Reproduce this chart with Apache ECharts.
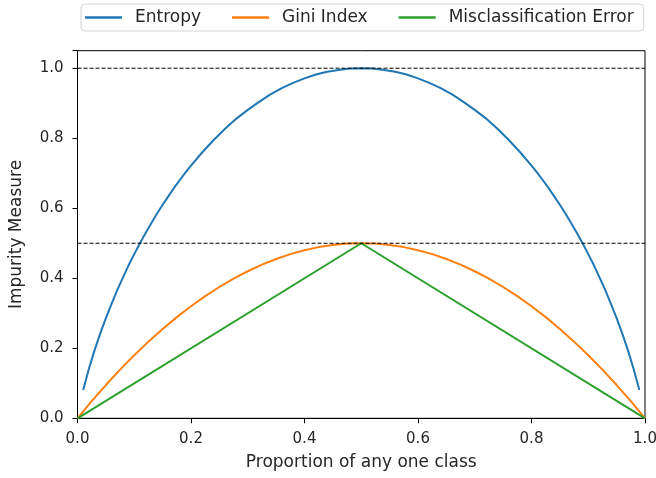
<!DOCTYPE html>
<html>
<head>
<meta charset="utf-8">
<script src="https://cdn.jsdelivr.net/npm/echarts@6/dist/echarts.min.js"></script>
<style>html,body{margin:0;padding:0;background:#fff}#c{width:656px;height:478px}</style>
</head>
<body>
<div id="c"></div>
<script>
// Values
const entropyX = [0.01,0.02,0.03,0.04,0.05,0.06,0.07,0.08,0.09,0.10,0.11,0.12,0.13,0.14,0.15,0.16,0.17,0.18,0.19,0.20,0.22,0.24,0.26,0.28,0.30,0.32,0.34,0.36,0.38,0.40,0.42,0.44,0.46,0.48,0.50,
                  0.52,0.54,0.56,0.58,0.60,0.62,0.64,0.66,0.68,0.70,0.72,0.74,0.76,0.78,0.80,0.81,0.82,0.83,0.84,0.85,0.86,0.87,0.88,0.89,0.90,0.91,0.92,0.93,0.94,0.95,0.96,0.97,0.98,0.99];
const entropyY = [0.081,0.141,0.194,0.242,0.286,0.327,0.366,0.402,0.437,0.469,0.500,0.529,0.557,0.584,0.610,0.634,0.658,0.680,0.702,0.722,0.760,0.795,0.827,0.856,0.881,0.904,0.925,0.943,0.958,0.971,0.982,0.990,0.995,0.999,1.000,
                  0.999,0.995,0.990,0.982,0.971,0.958,0.943,0.925,0.904,0.881,0.856,0.827,0.795,0.760,0.722,0.702,0.680,0.658,0.634,0.610,0.584,0.557,0.529,0.500,0.469,0.437,0.402,0.366,0.327,0.286,0.242,0.194,0.141,0.081];
const giniX = [0.000,0.025,0.050,0.075,0.100,0.125,0.150,0.175,0.200,0.225,0.250,0.275,0.300,0.325,0.350,0.375,0.400,0.425,0.450,0.475,0.500,
               0.525,0.550,0.575,0.600,0.625,0.650,0.675,0.700,0.725,0.750,0.775,0.800,0.825,0.850,0.875,0.900,0.925,0.950,0.975,1.000];
const giniY = [0.000,0.049,0.095,0.139,0.180,0.219,0.255,0.289,0.320,0.349,0.375,0.399,0.420,0.439,0.455,0.469,0.480,0.489,0.495,0.499,0.500,
               0.499,0.495,0.489,0.480,0.469,0.455,0.439,0.420,0.399,0.375,0.349,0.320,0.289,0.255,0.219,0.180,0.139,0.095,0.049,0.000];
const errX = [0.0,0.5,1.0];
const errY = [0.0,0.5,0.0];
const refLines = [1.0, 0.5];
const seriesNames = ['Entropy','Gini Index','Misclassification Error'];

const zip = (xs, ys) => xs.map((x, i) => [x, ys[i]]);
const colors = ['#1f77b4','#ff7f0e','#2ca02c'];
const font = 'DejaVu Sans';
const txt = '#262626';

const chart = echarts.init(document.getElementById('c'), null, {renderer:'canvas'});
const lineSeries = [zip(entropyX, entropyY), zip(giniX, giniY), zip(errX, errY)].map((d, i) => ({
  name: seriesNames[i], type: 'line', data: d, showSymbol: false, symbol: 'none',
  lineStyle: {color: colors[i], width: 2}, itemStyle: {color: colors[i]}, z: 3, animation: false
}));
const dashSeries = refLines.map(v => ({
  type: 'line', data: [[0, v], [1, v]], showSymbol: false, symbol: 'none', silent: true,
  lineStyle: {color: '#000', width: 1, type: [4, 2]}, z: 4, animation: false
}));

chart.setOption({
  animation: false,
  textStyle: {fontFamily: font},
  legend: {
    data: seriesNames, left: 81, top: 4,
    padding: [5, 10, 5, 4],
    borderColor: '#d4d4d4', borderWidth: 1, borderRadius: 4,
    itemWidth: 37, itemHeight: 2.5, itemGap: 31, icon: 'rect',
    textStyle: {fontFamily: font, fontSize: 17, color: txt, padding: [0, 0, 0, 8]}
  },
  grid: {left: 77.5, right: 11, top: 50.7, bottom: 59.7, show: true, borderColor: '#000', borderWidth: 1,
         outerBoundsMode: 'none', containLabel: false},
  xAxis: {
    type: 'value', min: 0, max: 1, interval: 0.2,
    name: 'Proportion of any one class', nameLocation: 'middle', nameGap: 36,
    nameTextStyle: {fontFamily: font, fontSize: 17, color: txt},
    axisLine: {show: true, lineStyle: {color: '#000', width: 1}},
    axisTick: {show: true, length: 5, lineStyle: {color: '#000', width: 1}},
    axisLabel: {fontFamily: font, fontSize: 15, color: txt, margin: 13, formatter: v => v.toFixed(1)},
    splitLine: {show: false}
  },
  yAxis: {
    type: 'value', min: 0, max: 1.05, interval: 0.2,
    name: 'Impurity Measure', nameLocation: 'middle', nameGap: 52,
    nameTextStyle: {fontFamily: font, fontSize: 17, color: txt},
    axisLine: {show: true, lineStyle: {color: '#000', width: 1}},
    axisTick: {show: true, length: 5, lineStyle: {color: '#000', width: 1}},
    axisLabel: {fontFamily: font, fontSize: 15, color: txt, margin: 14,
      formatter: v => (Math.abs(v - 1.05) < 1e-6 ? '' : v.toFixed(1))},
    splitLine: {show: false}
  },
  series: [...lineSeries, ...dashSeries]
});
</script>
</body>
</html>
